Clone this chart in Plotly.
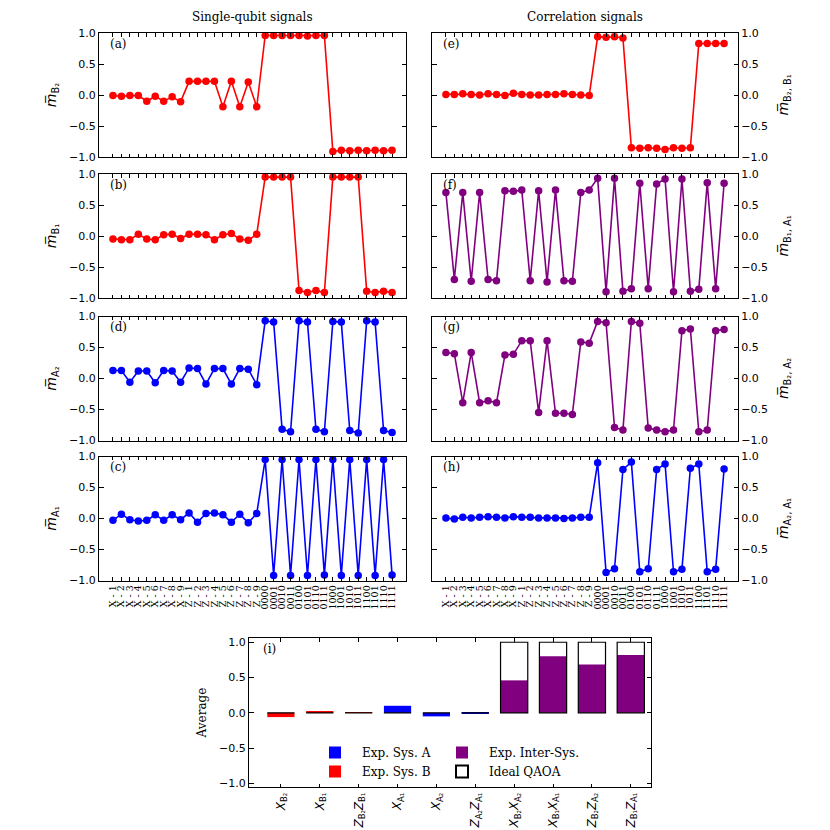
import plotly.graph_objects as go

# ---------------- data ----------------
categories = ["X - 1", "X - 2", "X - 3", "X - 4", "X - 5", "X - 6", "X - 7", "X - 8", "X - 9",
              "Z - 1", "Z - 2", "Z - 3", "Z - 4", "Z - 5", "Z - 6", "Z - 7", "Z - 8", "Z - 9",
              "0000", "0001", "0010", "0011", "0100", "0101", "0110", "0111",
              "1000", "1001", "1010", "1011", "1100", "1101", "1110", "1111"]

m_B2 = [-0.01, -0.02, -0.01, -0.01, -0.10, -0.02, -0.10, -0.03, -0.11,
        0.22, 0.22, 0.22, 0.22, -0.19, 0.22, -0.19, 0.21, -0.19,
        0.96, 0.96, 0.96, 0.96, 0.96, 0.95, 0.96, 0.96,
        -0.91, -0.89, -0.90, -0.89, -0.90, -0.89, -0.90, -0.89]

m_B1 = [-0.05, -0.06, -0.06, 0.03, -0.05, -0.06, 0.02, 0.03, -0.04,
        0.03, 0.03, 0.02, -0.06, 0.02, 0.04, -0.05, -0.07, 0.03,
        0.95, 0.95, 0.95, 0.95, -0.88, -0.91, -0.88, -0.91,
        0.95, 0.95, 0.95, 0.95, -0.89, -0.91, -0.89, -0.91]

m_A2 = [0.13, 0.13, -0.06, 0.12, 0.12, -0.07, 0.13, 0.12, -0.06,
        0.17, 0.16, -0.09, 0.16, 0.16, -0.09, 0.16, 0.15, -0.10,
        0.93, 0.91, -0.82, -0.86, 0.93, 0.91, -0.82, -0.86,
        0.92, 0.91, -0.84, -0.88, 0.93, 0.91, -0.84, -0.87]

m_A1 = [-0.03, 0.07, -0.02, -0.04, -0.03, 0.06, -0.03, 0.06, -0.02,
        0.09, -0.06, 0.08, 0.09, 0.06, -0.06, 0.07, -0.07, 0.08,
        0.95, -0.92, 0.95, -0.92, 0.95, -0.92, 0.95, -0.91,
        0.95, -0.92, 0.95, -0.92, 0.95, -0.92, 0.95, -0.91]

m_B2B1 = [0.01, 0.01, 0.02, 0.01, 0.00, 0.02, 0.01, -0.01, 0.03,
          0.01, 0.00, 0.00, 0.01, 0.01, 0.02, 0.01, 0.00, -0.01,
          0.94, 0.93, 0.94, 0.92,
          -0.85, -0.86, -0.85, -0.86, -0.88, -0.85, -0.86, -0.85,
          0.83, 0.83, 0.83, 0.83]

m_B1A1 = [0.70, -0.70, 0.70, -0.73, 0.70, -0.70, -0.72, 0.73, 0.72,
          0.74, -0.72, 0.73, -0.74, 0.74, -0.72, -0.73, 0.70, 0.74,
          0.93, -0.90, 0.93, -0.89, -0.85, 0.85, -0.85, 0.84,
          0.92, -0.90, 0.92, -0.89, -0.86, 0.86, -0.85, 0.85]

m_B2A2 = [0.42, 0.40, -0.39, 0.42, -0.39, -0.36, -0.39, 0.38, 0.39,
          0.61, 0.61, -0.55, 0.61, -0.56, -0.56, -0.58, 0.59, 0.57,
          0.92, 0.90, -0.79, -0.83, 0.92, 0.89, -0.80, -0.83,
          -0.86, -0.83, 0.77, 0.80, -0.86, -0.83, 0.77, 0.79]

m_A2A1 = [0.01, -0.01, 0.02, 0.01, 0.02, 0.03, 0.02, 0.01, 0.03,
          0.02, 0.02, 0.01, 0.01, 0.01, 0.00, 0.01, 0.02, 0.02,
          0.90, -0.87, -0.81, 0.79, 0.91, -0.86, -0.81, 0.79,
          0.88, -0.86, -0.82, 0.81, 0.88, -0.86, -0.82, 0.80]

bar_keys = ["XB2", "XB1", "ZB2ZB1", "XA1", "XA2", "ZA2ZA1",
            "XB2XA2", "XB1XA1", "ZB2ZA2", "ZB1ZA1"]
bar_labels = ["<i>X</i><sub>B₂</sub>", "<i>X</i><sub>B₁</sub>",
              "<i>Z</i><sub>B₂</sub><i>Z</i><sub>B₁</sub>",
              "<i>X</i><sub>A₁</sub>", "<i>X</i><sub>A₂</sub>",
              "<i>Z</i><sub>A₂</sub><i>Z</i><sub>A₁</sub>",
              "<i>X</i><sub>B₂</sub><i>X</i><sub>A₂</sub>",
              "<i>X</i><sub>B₁</sub><i>X</i><sub>A₁</sub>",
              "<i>Z</i><sub>B₂</sub><i>Z</i><sub>A₂</sub>",
              "<i>Z</i><sub>B₁</sub><i>Z</i><sub>A₁</sub>"]
sysB_keys = ["XB2", "XB1", "ZB2ZB1"]
sysB_vals = [-0.06, 0.015, 0.004]
sysA_keys = ["XA1", "XA2", "ZA2ZA1"]
sysA_vals = [0.10, -0.05, -0.004]
inter_keys = ["XB2XA2", "XB1XA1", "ZB2ZA2", "ZB1ZA1"]
inter_vals = [0.46, 0.80, 0.685, 0.82]
ideal_vals = [0, 0, 0, 0, 0, 0, 1, 1, 1, 1]

yticks = [-1.0, -0.5, 0.0, 0.5, 1.0]
yticklabels = ["−1.0", "−0.5", "0.0", "0.5", "1.0"]

RED = "#ff0000"
BLUE = "#0000ff"
PURPLE = "#800080"
SERIF = "DejaVu Serif"
SANS = "DejaVu Sans"

mbar = "<i>m\u0305</i>"

# panels: (series, color, col, row, ylabel, letter)
panels = [
    (m_B2, RED, 0, 0, mbar + "<sub>B₂</sub>", "(a)"),
    (m_B1, RED, 0, 1, mbar + "<sub>B₁</sub>", "(b)"),
    (m_A2, BLUE, 0, 2, mbar + "<sub>A₂</sub>", "(d)"),
    (m_A1, BLUE, 0, 3, mbar + "<sub>A₁</sub>", "(c)"),
    (m_B2B1, RED, 1, 0, mbar + "<sub>B₂, B₁</sub>", "(e)"),
    (m_B1A1, PURPLE, 1, 1, mbar + "<sub>B₁, A₁</sub>", "(f)"),
    (m_B2A2, PURPLE, 1, 2, mbar + "<sub>B₂, A₂</sub>", "(g)"),
    (m_A2A1, BLUE, 1, 3, mbar + "<sub>A₂, A₁</sub>", "(h)"),
]

W = H = 830
col_px = [(99, 406), (432, 738)]
row_px = [(33, 157), (174, 298), (316.5, 440.5), (456.5, 580.5)]

fig = go.Figure()
layout = dict(width=W, height=H, margin=dict(l=0, r=0, t=0, b=0, autoexpand=False),
              template="none", font=dict(family=SERIF, color="black"),
              paper_bgcolor="white", plot_bgcolor="white",
              showlegend=True)
annotations = []

axis_common = dict(showline=True, linecolor="black", linewidth=1, mirror="ticks",
                   ticks="inside", tickcolor="black", showgrid=False, zeroline=False,
                   automargin=False)

for i, (vals, color, col, row, ylab, letter) in enumerate(panels):
    n = i + 1
    xa = "x" if n == 1 else f"x{n}"
    ya = "y" if n == 1 else f"y{n}"
    fig.add_trace(go.Scatter(x=categories, y=vals, mode="lines+markers",
                             line=dict(color=color, width=1.6),
                             marker=dict(color=color, size=7.5),
                             xaxis=xa, yaxis=ya, showlegend=False))
    x0, x1 = col_px[col]
    y0, y1 = row_px[row]
    xkey = "xaxis" if n == 1 else f"xaxis{n}"
    ykey = "yaxis" if n == 1 else f"yaxis{n}"
    layout[xkey] = dict(axis_common, domain=[x0 / W, x1 / W], anchor=ya,
                        type="category", range=[-1.65, 34.65],
                        categoryorder="array", categoryarray=categories,
                        tickmode="array", tickvals=categories, ticktext=categories,
                        ticklen=3.5, showticklabels=(row == 3),
                        tickangle=-90, tickfont=dict(family=SERIF, size=9.5, color="black"))
    layout[ykey] = dict(axis_common, domain=[1 - y1 / H, 1 - y0 / H], anchor=xa,
                        range=[-1, 1], tickmode="array", tickvals=yticks, ticktext=yticklabels,
                        ticklen=4.5, side=("left" if col == 0 else "right"),
                        tickfont=dict(family=SANS, size=11, color="black"),
                        title=dict(text=ylab, font=dict(family=SANS, size=14, color="black"),
                                   standoff=(9 if col == 0 else 11)))
    annotations.append(dict(text=letter, xref=f"{xa} domain", yref=f"{ya} domain",
                            x=0.03, y=0.985, xanchor="left", yanchor="top", showarrow=False,
                            font=dict(family=SERIF, size=12, color="black")))

# bar chart (i)
bx = "x9"
by = "y9"
fig.add_trace(go.Bar(x=sysA_keys, y=sysA_vals, name="Exp. Sys. A", marker=dict(color=BLUE, line=dict(width=0)),
                     width=0.7, xaxis=bx, yaxis=by, legend="legend", legendrank=1))
fig.add_trace(go.Bar(x=sysB_keys, y=sysB_vals, name="Exp. Sys. B", marker=dict(color=RED, line=dict(width=0)),
                     width=0.7, xaxis=bx, yaxis=by, legend="legend", legendrank=2))
fig.add_trace(go.Bar(x=inter_keys, y=inter_vals, name="Exp. Inter-Sys.", marker=dict(color=PURPLE, line=dict(width=0)),
                     width=0.7, xaxis=bx, yaxis=by, legend="legend2", legendrank=3))
fig.add_trace(go.Bar(x=bar_keys, y=ideal_vals, name="Ideal QAOA",
                     marker=dict(color="rgba(255,255,255,0)", line=dict(color="black", width=1.2)),
                     width=0.7, xaxis=bx, yaxis=by, legend="legend2", legendrank=4))

layout["barmode"] = "overlay"
layout["xaxis9"] = dict(axis_common, domain=[249 / W, 651 / W], anchor=by,
                        type="category", categoryorder="array", categoryarray=bar_keys,
                        tickmode="array", tickvals=bar_keys, ticktext=bar_labels, range=[-0.82, 9.52],
                        ticklen=3.5, tickangle=-90,
                        tickfont=dict(family=SANS, size=12, color="black"))
layout["yaxis9"] = dict(axis_common, domain=[1 - 787 / H, 1 - 638 / H], anchor=bx,
                        range=[-1.05, 1.06], tickmode="array", tickvals=yticks, ticktext=yticklabels,
                        ticklen=4.5, tickfont=dict(family=SANS, size=11, color="black"),
                        title=dict(text="Average", font=dict(family=SERIF, size=12, color="black"),
                                   standoff=9))
annotations.append(dict(text="(i)", xref="x9 domain", yref="y9 domain",
                        x=0.03, y=0.985, xanchor="left", yanchor="top", showarrow=False,
                        font=dict(family=SERIF, size=12, color="black")))

legend_font = dict(family=SERIF, size=12, color="black")
layout["legend"] = dict(x=308 / W, y=1 - 738 / H, xanchor="left", yanchor="top",
                        bgcolor="rgba(255,255,255,0)", font=legend_font,
                        tracegroupgap=0, itemsizing="constant", itemwidth=44)
layout["legend2"] = dict(x=435 / W, y=1 - 738 / H, xanchor="left", yanchor="top",
                         bgcolor="rgba(255,255,255,0)", font=legend_font,
                         tracegroupgap=0, itemsizing="constant", itemwidth=44)

# column titles
annotations.append(dict(text="Single-qubit signals", xref="paper", yref="paper",
                        x=(col_px[0][0] + col_px[0][1]) / 2 / W, y=1 - 17 / H,
                        xanchor="center", yanchor="middle", showarrow=False,
                        font=dict(family=SERIF, size=12, color="black")))
annotations.append(dict(text="Correlation signals", xref="paper", yref="paper",
                        x=(col_px[1][0] + col_px[1][1]) / 2 / W, y=1 - 17 / H,
                        xanchor="center", yanchor="middle", showarrow=False,
                        font=dict(family=SERIF, size=12, color="black")))

layout["annotations"] = annotations
fig.update_layout(**layout)
fig.write_html("out.html", config={"displayModeBar": False},
               post_script="document.body.style.margin='0';document.body.style.padding='0';")
